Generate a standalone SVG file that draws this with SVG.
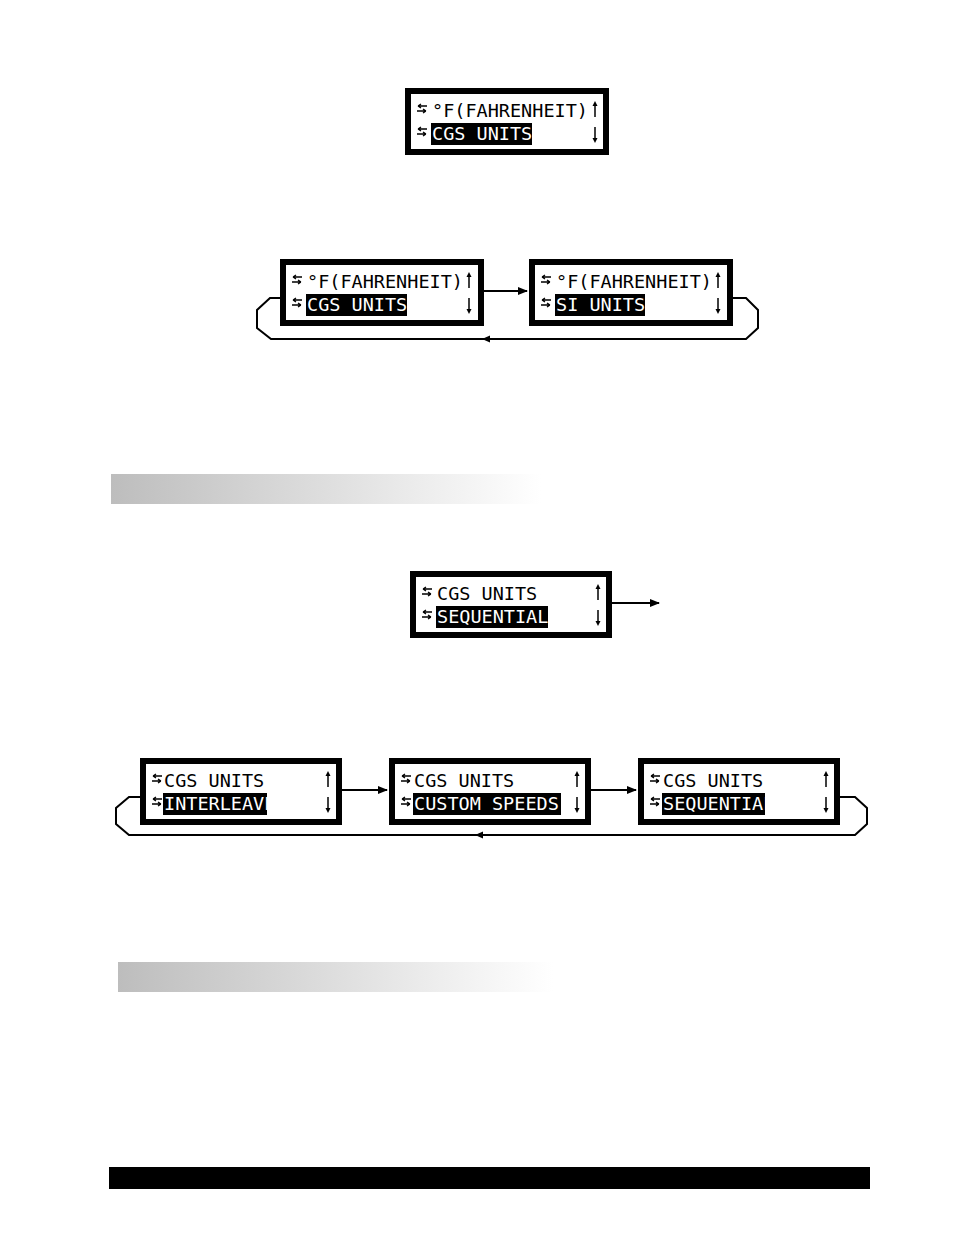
<svg xmlns="http://www.w3.org/2000/svg" width="954" height="1235" viewBox="0 0 954 1235">
<defs>
<linearGradient id="g" x1="0" x2="1" y1="0" y2="0"><stop offset="0" stop-color="#bdbdbd"/><stop offset="1" stop-color="#ffffff"/></linearGradient>
<marker id="ah" markerWidth="10" markerHeight="8" refX="9" refY="4" orient="auto" markerUnits="userSpaceOnUse"><path d="M0,0 L10,4 L0,8 Z" fill="#000"/></marker>
<g id="lr"><path d="M2,4 H11 M2,4 L5,2 M2,4 L5,6 M1,9 H10 M10,9 L7,7 M10,9 L7,11" stroke="#000" stroke-width="1.3" fill="none"/></g>
<g id="up"><path d="M0,16 V2" stroke="#000" stroke-width="1.5"/><path d="M-2.5,5 L0,0 L2.5,5 Z" fill="#000"/></g>
<g id="dn"><path d="M0,0 V14" stroke="#000" stroke-width="1.5"/><path d="M-2.5,11 L0,16 L2.5,11 Z" fill="#000"/></g>
</defs>
<style>
.frame{fill:#fff;stroke:#000;stroke-width:6}
.t{font-family:"DejaVu Sans Mono","Liberation Mono",monospace;font-size:18.5px;fill:#000}
.h{fill:#fff}
.c{fill:none;stroke:#000;stroke-width:2}
</style>
<rect x="111" y="474" width="430" height="30" fill="url(#g)"/>
<rect x="118" y="962" width="435" height="30" fill="url(#g)"/>
<rect x="109" y="1167" width="761" height="22" fill="#000"/>

<g id="lcd0" transform="translate(405,88)">
<rect class="frame" x="3" y="3" width="198" height="61"/>
<use href="#lr" x="11" y="14"/><use href="#lr" x="11" y="37"/>
<text class="t" x="27" y="29">°F(FAHRENHEIT)</text>
<rect x="26" y="35" width="101" height="22" fill="#000"/>
<text class="t h" x="27" y="52">CGS UNITS</text>
<use href="#up" x="190" y="13"/><use href="#dn" x="190" y="39"/>
</g>

<g id="lcd1" transform="translate(280,259)">
<rect class="frame" x="3" y="3" width="198" height="61"/>
<use href="#lr" x="11" y="14"/><use href="#lr" x="11" y="37"/>
<text class="t" x="27" y="29">°F(FAHRENHEIT)</text>
<rect x="26" y="35" width="101" height="22" fill="#000"/>
<text class="t h" x="27" y="52">CGS UNITS</text>
<use href="#up" x="189" y="13"/><use href="#dn" x="189" y="39"/>
</g>
<g id="lcd2" transform="translate(529,259)">
<rect class="frame" x="3" y="3" width="198" height="61"/>
<use href="#lr" x="11" y="14"/><use href="#lr" x="11" y="37"/>
<text class="t" x="27" y="29">°F(FAHRENHEIT)</text>
<rect x="26" y="35" width="90" height="22" fill="#000"/>
<text class="t h" x="27" y="52">SI UNITS</text>
<use href="#up" x="189" y="13"/><use href="#dn" x="189" y="39"/>
</g>

<g id="lcd3" transform="translate(410,571)">
<rect class="frame" x="3" y="3" width="196" height="61"/>
<use href="#lr" x="11" y="14"/><use href="#lr" x="11" y="37"/>
<text class="t" x="27" y="29">CGS UNITS</text>
<rect x="26" y="35" width="112" height="22" fill="#000"/>
<text class="t h" x="27" y="52">SEQUENTIAL</text>
<use href="#up" x="188" y="13"/><use href="#dn" x="188" y="39"/>
</g>

<g id="lcd4" transform="translate(140,758)">
<rect class="frame" x="3" y="3" width="196" height="61"/>
<use href="#lr" x="11" y="14"/><use href="#lr" x="11" y="37"/>
<text class="t" x="24" y="29">CGS UNITS</text>
<rect x="23" y="35" width="104" height="22" fill="#000"/>
<text class="t h" x="24" y="52">INTERLEAVE</text>
<use href="#up" x="188" y="13"/><use href="#dn" x="188" y="39"/>
</g>
<g id="lcd5" transform="translate(389,758)">
<rect class="frame" x="3" y="3" width="196" height="61"/>
<use href="#lr" x="11" y="14"/><use href="#lr" x="11" y="37"/>
<text class="t" x="25" y="29">CGS UNITS</text>
<rect x="24" y="35" width="148" height="22" fill="#000"/>
<text class="t h" x="25" y="52">CUSTOM SPEEDS</text>
<use href="#up" x="188" y="13"/><use href="#dn" x="188" y="39"/>
</g>
<g id="lcd6" transform="translate(638,758)">
<rect class="frame" x="3" y="3" width="196" height="61"/>
<use href="#lr" x="11" y="14"/><use href="#lr" x="11" y="37"/>
<text class="t" x="25" y="29">CGS UNITS</text>
<rect x="24" y="35" width="103" height="22" fill="#000"/>
<text class="t h" x="25" y="52">SEQUENTIAL</text>
<use href="#up" x="188" y="13"/><use href="#dn" x="188" y="39"/>
</g>

<g id="connectors">
<path class="c" d="M484,291 H527" marker-end="url(#ah)"/>
<path class="c" d="M733,298 H746 L758,310 V328 L746,339 H271 L257,328 V310 L270,298 H280"/>
<path d="M482,339 L490,335.5 L490,342.5 Z" fill="#000"/>
<path class="c" d="M612,603 H659" marker-end="url(#ah)"/>
<path class="c" d="M342,790 H387" marker-end="url(#ah)"/>
<path class="c" d="M591,790 H636" marker-end="url(#ah)"/>
<path class="c" d="M840,797 H855 L867,808 V824 L855,835 H129 L116,824 V808 L129,797 H140"/>
<path d="M475,835 L483,831.5 L483,838.5 Z" fill="#000"/>
</g>
</svg>
